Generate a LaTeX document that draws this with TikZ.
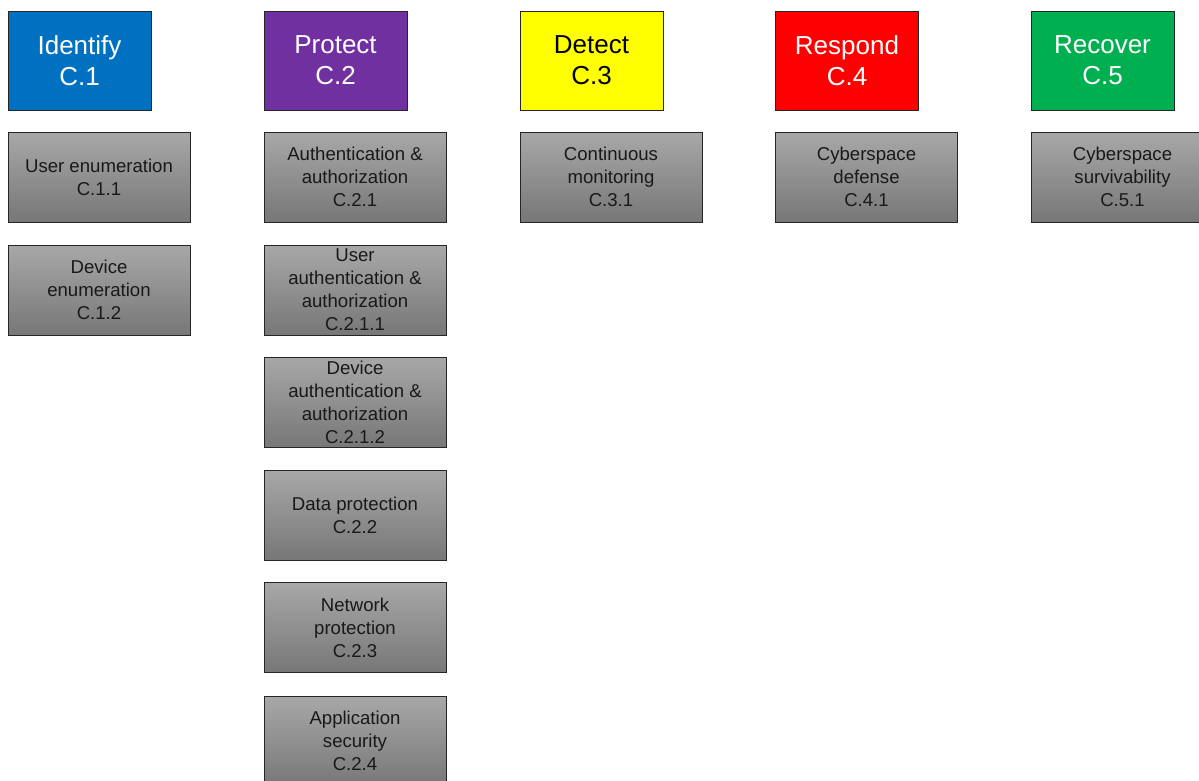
\documentclass[tikz,border=0pt]{standalone}
\usepackage{fontspec}
\setmainfont{Liberation Sans}
\definecolor{idblue}{HTML}{0070C0}
\definecolor{prpurple}{HTML}{7030A0}
\definecolor{dtyellow}{HTML}{FFFF00}
\definecolor{rsred}{HTML}{FF0000}
\definecolor{rcgreen}{HTML}{00B050}
\definecolor{subtop}{HTML}{A8A8A8}
\definecolor{subbot}{HTML}{777777}
\begin{document}
\begin{tikzpicture}
    [x=1pt,y=-1pt,
     head/.style={shape=rectangle,draw=black!85,line width=0.8pt,minimum width=143pt,minimum height=99pt,
       inner sep=0pt,align=center,text=white,font=\fontsize{26}{31}\selectfont},
     sub/.style={shape=rectangle,draw=black!85,line width=0.8pt,minimum width=182pt,minimum height=90pt,
       inner sep=0pt,align=center,text=black!90,top color=subtop,bottom color=subbot,
       font=\fontsize{18.6}{23}\selectfont}]
    \useasboundingbox (0,0) rectangle (1199,780);
    \node [head,fill=idblue] (c1) at (79.5,60.5) {Identify\\C.1};
    \node [head,fill=prpurple] (c2) at (335.5,60.5) {Protect\\C.2};
    \node [head,fill=dtyellow,text=black] (c3) at (591.5,60.5) {Detect\\C.3};
    \node [head,fill=rsred] (c4) at (847,60.5) {Respond\\C.4};
    \node [head,fill=rcgreen] (c5) at (1102.5,60.5) {Recover\\C.5};
    \node [sub] (c11) at (99,177) {User enumeration\\C.1.1};
    \node [sub] (c12) at (99,290) {Device\\enumeration\\C.1.2};
    \node [sub] (c21) at (355,177) {Authentication \&\\authorization\\C.2.1};
    \node [sub] (c211) at (355,290) {User\\authentication \&\\authorization\\C.2.1.1};
    \node [sub] (c212) at (355,402) {Device\\authentication \&\\authorization\\C.2.1.2};
    \node [sub] (c22) at (355,515) {Data protection\\C.2.2};
    \node [sub] (c23) at (355,627.5) {Network\\protection\\C.2.3};
    \node [sub] (c24) at (355,741) {Application\\security\\C.2.4};
    \node [sub] (c31) at (611,177) {Continuous\\monitoring\\C.3.1};
    \node [sub] (c41) at (866.5,177) {Cyberspace\\defense\\C.4.1};
    \node [sub] (c51) at (1122.5,177) {Cyberspace\\survivability\\C.5.1};
  \end{tikzpicture}
\end{document}
